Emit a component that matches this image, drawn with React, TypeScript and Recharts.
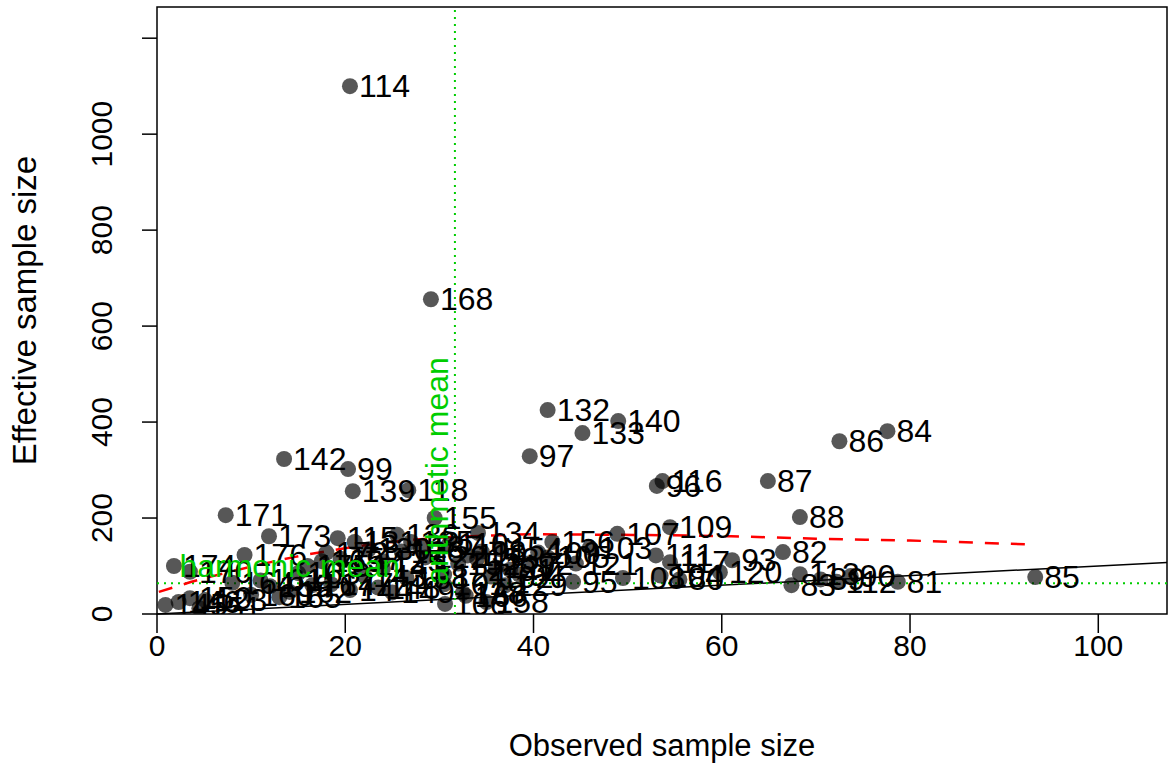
import React from 'react';
import {
  ComposedChart,
  Scatter,
  Line,
  XAxis,
  YAxis,
  ReferenceLine,
  ReferenceArea,
  ReferenceDot,
} from 'recharts';

// sample ids and their sizes (observed vs effective)
const ids = [
  80, 81, 82, 83, 84, 85, 86, 87, 88, 89, 90, 91, 92, 93, 94, 95, 96, 97, 98, 99,
  100, 101, 102, 103, 104, 105, 106, 107, 108, 109, 110, 111, 112, 113, 114, 115, 116, 117, 118, 119,
  120, 121, 122, 123, 124, 125, 126, 127, 128, 129, 130, 131, 132, 133, 134, 135, 136, 137, 138, 139,
  140, 141, 142, 143, 144, 145, 146, 147, 148, 149, 150, 151, 152, 153, 154, 155, 156, 157, 158, 159,
  160, 161, 162, 163, 164, 165, 166, 167, 168, 169, 170, 171, 172, 173, 174, 175, 176,
];
const observed = [
  55.5, 78.7, 66.5, 67.4, 77.6, 93.3, 72.5, 64.9, 68.3, 70.5, 73.7, 37.5, 39.5, 61.1, 38.5, 44.2, 53.1, 39.6, 34.5, 20.3,
  40.5, 30.5, 35.5, 46.0, 53.5, 41.5, 30.6, 48.9, 49.5, 54.5, 31.0, 53.0, 72.2, 68.3, 20.5, 19.2, 53.7, 54.5, 26.7, 33.0,
  59.8, 44.5, 28.5, 5.1, 30.5, 24.0, 26.0, 36.0, 32.5, 37.0, 22.5, 21.0, 41.5, 45.2, 34.1, 27.0, 25.5, 28.0, 26.5, 20.8,
  49.0, 24.0, 13.5, 22.0, 20.5, 0.9, 2.3, 18.5, 23.5, 25.0, 3.5, 4.5, 32.0, 34.0, 36.5, 29.5, 42.0, 19.5, 35.0, 12.0,
  10.0, 11.0, 14.1, 15.0, 8.0, 13.0, 32.8, 16.5, 29.1, 17.5, 3.5, 7.3, 18.0, 11.9, 1.8, 16.0, 9.3,
];
const effective = [
  72, 67, 129, 60, 381, 77, 360, 277, 202, 72, 79, 92, 105, 112, 82, 67, 267, 329, 130, 302,
  128, 62, 78, 138, 80, 118, 21, 167, 75, 181, 145, 122, 67, 83, 1100, 158, 277, 108, 258, 122,
  87, 105, 118, 29, 82, 110, 130, 97, 44, 60, 135, 150, 425, 377, 169, 150, 165, 140, 75, 256,
  402, 95, 323, 80, 50, 19, 25, 62, 55, 45, 33, 12, 105, 115, 135, 200, 150, 115, 25, 58,
  40, 70, 46, 85, 65, 35, 38, 60, 656, 110, 88, 206, 128, 162, 100, 100, 123,
];

// smoothed trend (red dashed)
const trendX = [0.2, 4.4, 8.6, 14.7, 21, 28, 35, 40, 49, 61, 70, 80, 92.5];
const trendY = [46, 71, 92, 119, 140, 156, 163, 166, 165, 162, 157, 153, 145];

const xTicks = [0, 20, 40, 60, 80, 100];
const yTicks = [0, 200, 400, 600, 800, 1000, 1200];
const arithmeticMean = 31.65;
const harmonicMean = 64;

const X_MAX = 107.3;
const Y_MIN = 0;
const Y_MAX = 1265;

const FONT = '"Liberation Sans", Arial, Helvetica, sans-serif';
const GREEN = '#00CD00';

const points = ids.map((id, i) => ({ id, x: observed[i], y: effective[i] }));
const trend = trendX.map((x, i) => ({ x, y: trendY[i] }));

const Dot = (props: any) => {
  const { cx, cy } = props;
  return <circle cx={cx} cy={cy} r={8} fill="#000" fillOpacity={0.66} />;
};

const PointLabel = (props: any) => {
  const { cx, cy, payload } = props;
  return (
    <text x={cx + 9} y={cy} dominantBaseline="central" fontSize={32} fontFamily={FONT} fill="#000">
      {payload.id}
    </text>
  );
};

const XTick = (props: any) => {
  const { x, payload } = props;
  return (
    <g>
      <line x1={x} x2={x} y1={614} y2={633} stroke="#000" strokeWidth={1.5} />
      <text x={x} y={656} textAnchor="middle" fontSize={30} fontFamily={FONT} fill="#000">
        {payload.value}
      </text>
    </g>
  );
};

const YTick = (props: any) => {
  const { x, y, payload } = props;
  if (payload.value === 1200) return <g />;
  const bx = x - 30;
  return (
    <text
      x={bx}
      y={y}
      transform={`rotate(-90, ${bx}, ${y})`}
      textAnchor="middle"
      fontSize={30}
      fontFamily={FONT}
      fill="#000"
    >
      {payload.value}
    </text>
  );
};

const XTitle = (props: any) => {
  const vb = props.viewBox;
  return (
    <text x={vb.x + vb.width / 2} y={756} textAnchor="middle" fontSize={31} fontFamily={FONT} fill="#000">
      Observed sample size
    </text>
  );
};

const YTitle = (props: any) => {
  const vb = props.viewBox;
  const cx = 36;
  const cy = vb.y + vb.height / 2;
  return (
    <text
      x={cx}
      y={cy}
      transform={`rotate(-90, ${cx}, ${cy})`}
      textAnchor="middle"
      fontSize={33}
      fontFamily={FONT}
      fill="#000"
    >
      Effective sample size
    </text>
  );
};

const App: React.FC = () => {
  return (
    <div style={{ position: 'absolute', left: 0, top: 0, width: 1170, height: 768, background: '#fff' }}>
      <ComposedChart
        width={1170}
        height={768}
        data={points}
        margin={{ top: 7, right: 3, bottom: 0, left: 0 }}
      >
        <XAxis
          dataKey="x"
          type="number"
          domain={[0, X_MAX]}
          ticks={xTicks}
          allowDataOverflow
          height={154}
          tickSize={0}
          tickMargin={0}
          tick={<XTick />}
          axisLine={false}
          tickLine={false}
          label={<XTitle />}
        />
        <YAxis
          dataKey="y"
          type="number"
          domain={[Y_MIN, Y_MAX]}
          ticks={yTicks}
          allowDataOverflow
          width={157}
          tickSize={15}
          tickMargin={0}
          tick={<YTick />}
          axisLine={false}
          tickLine={{ stroke: '#000', strokeWidth: 1.5 }}
          label={<YTitle />}
        />
        <ReferenceArea x1={0} x2={X_MAX} y1={Y_MIN} y2={Y_MAX} fill="none" stroke="#000" strokeWidth={1.5} />
        <ReferenceLine
          segment={[{ x: 0, y: 0 }, { x: X_MAX, y: X_MAX }]}
          stroke="#000"
          strokeWidth={1.5}
        />
        <ReferenceLine x={arithmeticMean} stroke={GREEN} strokeWidth={2} strokeDasharray="2 5" />
        <ReferenceLine y={harmonicMean} stroke={GREEN} strokeWidth={2} strokeDasharray="2 5" />
        <Line
          data={trend}
          dataKey="y"
          type="monotone"
          stroke="#FF0000"
          strokeWidth={2.5}
          strokeDasharray="14 12"
          dot={false}
          activeDot={false}
          isAnimationActive={false}
        />
        <Scatter data={points} shape={<Dot />} isAnimationActive={false} />
        <Scatter data={points} shape={<PointLabel />} isAnimationActive={false} />
        <ReferenceDot
          x={14.1}
          y={100}
          r={0}
          shape={(p: any) => (
            <text x={p.cx} y={p.cy} textAnchor="middle" dominantBaseline="central" fontSize={32} fontFamily={FONT} fill={GREEN}>
              harmonic mean
            </text>
          )}
        />
        <ReferenceDot
          x={29.8}
          y={298}
          r={0}
          shape={(p: any) => (
            <text
              x={p.cx}
              y={p.cy}
              transform={`rotate(-90, ${p.cx}, ${p.cy})`}
              textAnchor="middle"
              dominantBaseline="central"
              fontSize={32}
              fontFamily={FONT}
              fill={GREEN}
            >
              arithmetic mean
            </text>
          )}
        />
      </ComposedChart>
    </div>
  );
};

export default App;
